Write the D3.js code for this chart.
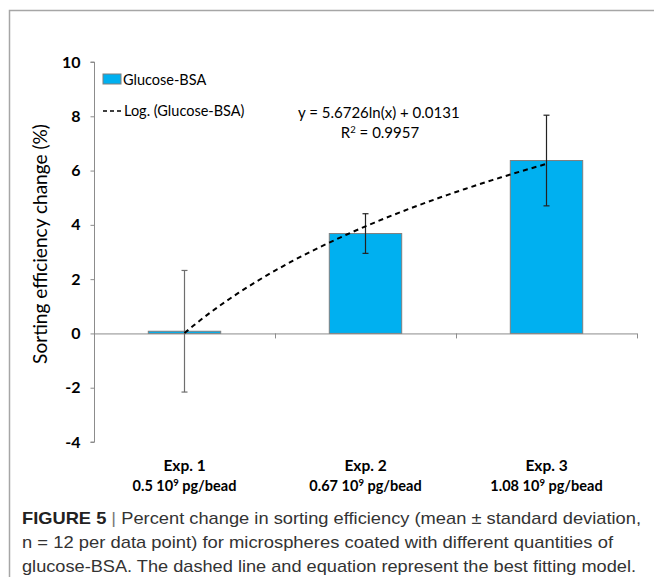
<!DOCTYPE html>
<html>
<head>
<meta charset="utf-8">
<script src="https://cdn.jsdelivr.net/npm/d3@7"></script>
<style>
  body { margin: 0; background: #fff; }
  svg { display: block; }
</style>
</head>
<body>
<svg id="chart" width="654" height="577"></svg>
<script>
// data
const categories = ["Exp. 1", "Exp. 2", "Exp. 3"];
const doses = ["0.5", "0.67", "1.08"];
const means = [0.08, 3.68, 6.37];
const sds = [2.24, 0.73, 1.67];
const yTicks = [-4, -2, 0, 2, 4, 6, 8, 10];
// logarithmic trendline as printed on the chart
const fitA = 5.6726;
const fitB = 0.0131;
const captionLines = [
    "Percent change in sorting efficiency (mean \u00b1 standard deviation,",
    "n = 12 per data point) for microspheres coated with different quantities of",
    "glucose-BSA. The dashed line and equation represent the best fitting model."
];

const svg = d3.select("#chart");
const font = "Lato, 'Open Sans', sans-serif";

// fit a text to a given width by scaling its font size
function fitWidth(sel, target) {
    const w = sel.node().getComputedTextLength();
    const fs = parseFloat(sel.attr("font-size"));
    sel.attr("font-size", fs * target / w);
}

// frame around the figure
svg.append("path")
    .attr("d", "M9.5,577 L9.5,10.5 L654,10.5")
    .attr("fill", "none")
    .attr("stroke", "#a6a6a6")
    .attr("stroke-width", 1.5);

const x = d3.scaleBand().domain(categories).range([94, 637]).paddingInner(0.6).paddingOuter(0.3);
const xEdges = d3.scalePoint().domain(d3.range(categories.length + 1)).range([94, 637]);
const y = d3.scaleLinear().domain([-4, 10]).range([442, 62]);

// y axis
const yAxis = svg.append("g")
    .attr("transform", "translate(94.5,0)")
    .call(d3.axisLeft(y).tickValues(yTicks).tickSize(4).tickPadding(10).tickFormat(d => String(d)));
yAxis.select(".domain").attr("stroke", "#8c8c8c").attr("d", `M-4,${y(10)}H0V${y(-4)}H-4`);
yAxis.selectAll(".tick line").attr("stroke", "#8c8c8c");
yAxis.selectAll(".tick text")
    .attr("font-family", font)
    .attr("font-size", 16)
    .attr("font-weight", "bold")
    .attr("fill", "#000");

const yLab = svg.append("text")
    .attr("transform", "translate(47,244) rotate(-90)")
    .attr("text-anchor", "middle")
    .attr("font-family", font)
    .attr("font-size", 16)
    .attr("fill", "#000")
    .text("Sorting efficiency change (%)");
fitWidth(yLab, 240);

// bars
svg.selectAll(".bar")
    .data(means)
    .enter()
    .append("rect")
    .attr("class", "bar")
    .attr("x", (d, i) => x(categories[i]))
    .attr("width", x.bandwidth())
    .attr("y", d => Math.min(y(d), y(0)))
    .attr("height", d => Math.abs(y(0) - y(d)))
    .attr("fill", "#00b0f0")
    .attr("stroke", "#7f7f7f")
    .attr("stroke-width", 1);

// zero line with category ticks
svg.append("line")
    .attr("x1", 94).attr("x2", 637)
    .attr("y1", y(0) + 0.5).attr("y2", y(0) + 0.5)
    .attr("stroke", "#8c8c8c");
svg.selectAll(".xtick")
    .data(d3.range(1, categories.length + 1))
    .enter()
    .append("line")
    .attr("x1", d => xEdges(d) + 0.5).attr("x2", d => xEdges(d) + 0.5)
    .attr("y1", y(0)).attr("y2", y(0) + 5)
    .attr("stroke", "#8c8c8c");

// error bars
const eb = svg.selectAll(".err")
    .data(means)
    .enter()
    .append("g")
    .attr("class", "err")
    .attr("stroke", (d, i) => i === 0 ? "#6e6e6e" : "#222")
    .attr("stroke-width", 1.2);
eb.append("line")
    .attr("x1", (d, i) => x(categories[i]) + x.bandwidth() / 2)
    .attr("x2", (d, i) => x(categories[i]) + x.bandwidth() / 2)
    .attr("y1", (d, i) => y(d + sds[i]))
    .attr("y2", (d, i) => y(d - sds[i]));
[1, -1].forEach(s => {
    eb.append("line")
        .attr("x1", (d, i) => x(categories[i]) + x.bandwidth() / 2 - 3)
        .attr("x2", (d, i) => x(categories[i]) + x.bandwidth() / 2 + 3)
        .attr("y1", (d, i) => y(d + s * sds[i]))
        .attr("y2", (d, i) => y(d + s * sds[i]));
});

// trendline
const xc = d3.scaleLinear().domain([1, categories.length])
    .range([x(categories[0]) + x.bandwidth() / 2, x(categories[categories.length - 1]) + x.bandwidth() / 2]);
const fitPts = d3.range(1, categories.length + 0.001, 0.05).map(t => [t, fitA * Math.log(t) + fitB]);
svg.append("path")
    .attr("d", d3.line().x(d => xc(d[0])).y(d => y(d[1]))(fitPts))
    .attr("fill", "none")
    .attr("stroke", "#000")
    .attr("stroke-width", 2)
    .attr("stroke-dasharray", "5,4");

// legend
svg.append("rect")
    .attr("x", 103).attr("y", 74).attr("width", 18).attr("height", 10)
    .attr("fill", "#00b0f0").attr("stroke", "#7f7f7f");
svg.append("text")
    .attr("x", 123).attr("y", 85)
    .attr("font-family", font).attr("font-size", 14.5)
    .text("Glucose-BSA");
svg.append("line")
    .attr("x1", 103).attr("x2", 123).attr("y1", 111).attr("y2", 111)
    .attr("stroke", "#000").attr("stroke-width", 1.5).attr("stroke-dasharray", "4,3");
svg.append("text")
    .attr("x", 124).attr("y", 116)
    .attr("font-family", font).attr("font-size", 14.5)
    .text("Log. (Glucose-BSA)");

svg.append("text")
    .attr("x", 298).attr("y", 118)
    .attr("font-family", font).attr("font-size", 15)
    .text(`y = ${fitA}ln(x) + ${fitB}`);
const r2 = svg.append("text")
    .attr("x", 380).attr("y", 138)
    .attr("text-anchor", "middle")
    .attr("font-family", font).attr("font-size", 15);
r2.append("tspan").text("R");
r2.append("tspan").attr("dy", -5).attr("font-size", 9.5).text("2");
r2.append("tspan").attr("dy", 5).text(" = 0.9957");

// category labels
const lab = svg.selectAll(".xlab")
    .data(categories)
    .enter()
    .append("text")
    .attr("class", "xlab")
    .attr("text-anchor", "middle")
    .attr("font-family", font)
    .attr("font-size", 14.5)
    .attr("font-weight", "bold");
lab.append("tspan")
    .attr("x", d => x(d) + x.bandwidth() / 2)
    .attr("y", 471)
    .attr("font-size", 15.5)
    .text(d => d);
const l2 = lab.append("tspan")
    .attr("x", d => x(d) + x.bandwidth() / 2)
    .attr("y", 491);
l2.append("tspan").text((d, i) => doses[i] + " 10");
l2.append("tspan").attr("dy", -5).attr("font-size", 9.5).text("9");
l2.append("tspan").attr("dy", 5).text(" pg/bead");

// caption
const capFont = "'Liberation Sans', Arial, sans-serif";
const cap = svg.append("g").attr("font-family", capFont).attr("font-size", 17).attr("fill", "#333");
const c1 = cap.append("text").attr("x", 22).attr("y", 524).attr("textLength", 619).attr("lengthAdjust", "spacingAndGlyphs");
c1.append("tspan").attr("font-weight", "bold").attr("fill", "#222").text("FIGURE 5");
c1.append("tspan").attr("fill", "#777").text(" | ");
c1.append("tspan").text(captionLines[0]);
cap.append("text").attr("x", 22).attr("y", 548).attr("textLength", 591).attr("lengthAdjust", "spacingAndGlyphs").text(captionLines[1]);
cap.append("text").attr("x", 22).attr("y", 572).attr("textLength", 614).attr("lengthAdjust", "spacingAndGlyphs").text(captionLines[2]);
</script>
</body>
</html>
